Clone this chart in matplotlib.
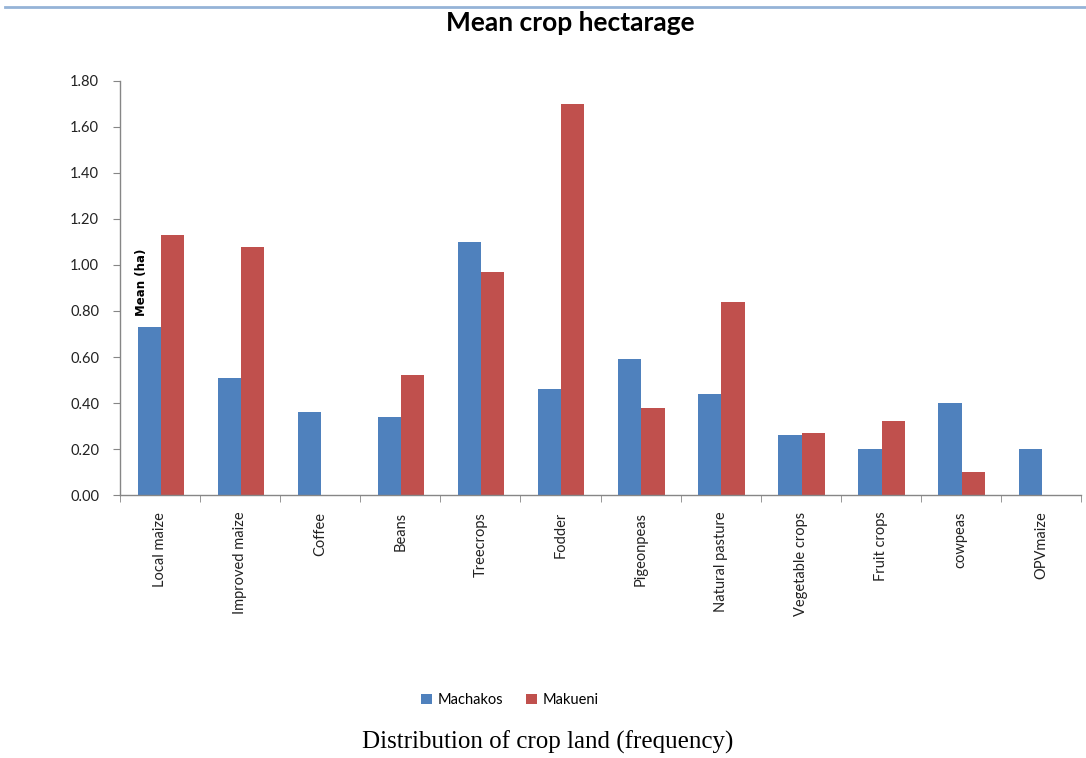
import matplotlib
matplotlib.use("Agg")
import matplotlib.pyplot as plt
import numpy as np
from matplotlib.lines import Line2D
from matplotlib.ticker import FixedLocator, NullFormatter

# Crop categories and mean hectarage per county
crops = ["Local maize", "Improved maize", "Coffee", "Beans", "Treecrops", "Fodder",
         "Pigeonpeas", "Natural pasture", "Vegetable crops", "Fruit crops", "cowpeas", "OPVmaize"]
machakos = [0.73, 0.51, 0.36, 0.34, 1.10, 0.46, 0.59, 0.44, 0.26, 0.20, 0.40, 0.20]
makueni = [1.13, 1.08, 0.00, 0.52, 0.97, 1.70, 0.38, 0.84, 0.27, 0.32, 0.10, 0.00]
series_names = ["Machakos", "Makueni"]
yticks = [0.0, 0.2, 0.4, 0.6, 0.8, 1.0, 1.2, 1.4, 1.6, 1.8]

blue = "#4F81BD"
red = "#C0504D"
axis_grey = "#868686"

fig = plt.figure(figsize=(10.86, 7.58), dpi=100)
ax = fig.add_axes([120 / 1086, 1 - 495 / 758, (1081 - 120) / 1086, (495 - 81) / 758])

x = np.arange(len(crops))
w = 0.29
ax.bar(x - w / 2 + 0.01, machakos, width=w, color=blue, label=series_names[0], zorder=2)
ax.bar(x + w / 2 + 0.01, makueni, width=w, color=red, label=series_names[1], zorder=2)

ax.set_xlim(-0.5, len(crops) - 0.5)
ax.set_ylim(0, 1.8)
ax.set_yticks(yticks)
ax.set_yticklabels([f"{v:.2f}" for v in yticks], fontsize=10.5, family="Lato", color="#222222")

ax.set_xticks(x)
ax.set_xticklabels(crops, rotation=90, fontsize=10.5, family="Lato", color="#222222", va="top")
ax.tick_params(axis="x", which="major", length=0, pad=12)
ax.xaxis.set_minor_locator(FixedLocator(np.arange(-0.5, len(crops), 1.0)))
ax.xaxis.set_minor_formatter(NullFormatter())
ax.tick_params(axis="x", which="minor", length=5, color=axis_grey, direction="out")
ax.tick_params(axis="y", length=5, color=axis_grey, direction="out", pad=10)

for s in ["top", "right"]:
    ax.spines[s].set_visible(False)
for s in ["left", "bottom"]:
    ax.spines[s].set_color(axis_grey)
    ax.spines[s].set_linewidth(1.0)

# Title and axis annotation
fig.text(570 / 1086, 1 - 23 / 758, "Mean crop hectarage", ha="center", va="center",
         fontsize=19, fontweight="bold", family="Lato")
fig.text(141 / 1086, 1 - 282 / 758, "Mean (ha)", ha="center", va="center", rotation=90,
         fontsize=8.5, fontweight="bold", family="DejaVu Sans")

# Rule across the top of the page
fig.add_artist(Line2D([5 / 1086, 1.0], [1 - 7 / 758, 1 - 7 / 758],
                      transform=fig.transFigure, color="#95B3D7", linewidth=2))

# Legend below the chart
leg = fig.legend(loc="center", bbox_to_anchor=(510 / 1086, 1 - 700 / 758), ncol=2,
                 frameon=False, handlelength=0.7, handleheight=0.7,
                 handletextpad=0.4, columnspacing=1.6, prop={"family": "Lato", "size": 10.5})

fig.text(548 / 1086, 1 - 742 / 758, "Distribution of crop land (frequency)", ha="center",
         va="center", fontsize=18, family="Liberation Serif")

fig.savefig("out.png", dpi=100, facecolor="white")
